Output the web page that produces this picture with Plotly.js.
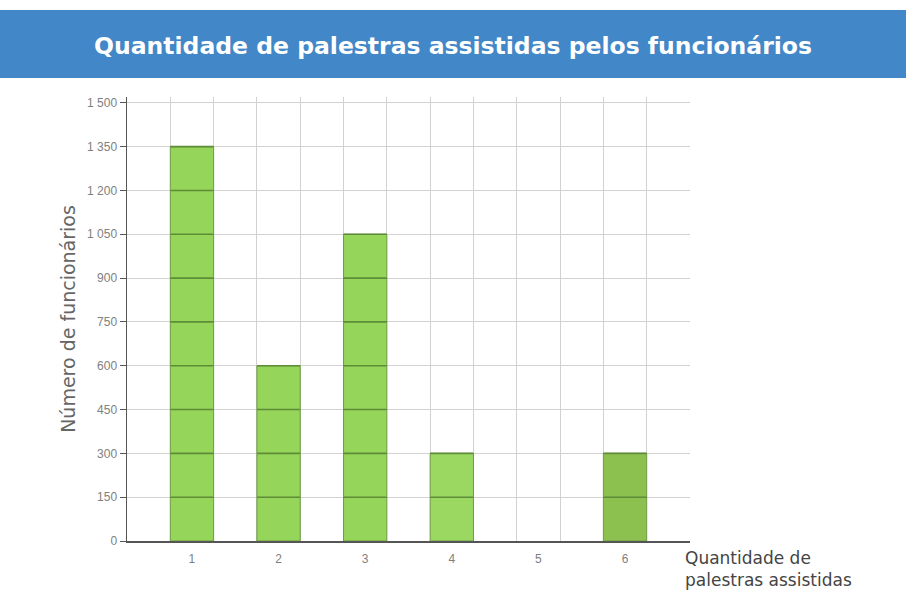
<!DOCTYPE html>
<html>
<head>
<meta charset="utf-8">
<script src="https://cdn.plot.ly/plotly-3.0.1.min.js"></script>
<style>
html,body{margin:0;padding:0;background:#fff;}
#chart{width:906px;height:595px;}
</style>
</head>
<body>
<div id="chart"></div>
<script>
// Data
const categories = [1, 2, 3, 4, 5, 6];
const employees = [1350, 600, 1050, 300, 0, 300];
const barColors = ['#95d559', '#95d559', '#95d559', '#9ad862', '#95d559', '#8cc150'];
const yTicks = [0, 150, 300, 450, 600, 750, 900, 1050, 1200, 1350, 1500];
const titleText = 'Quantidade de palestras assistidas pelos funcionários';
const yTitle = 'Número de funcionários';
const xTitle = 'Quantidade de<br>palestras assistidas';

// Dark green division lines across each bar, at each y tick below its value
const segX = [], segY = [];
categories.forEach((c, i) => {
  yTicks.forEach(t => {
    if (t > 0 && t <= employees[i]) {
      segX.push(c - 0.25, c + 0.25, null);
      segY.push(t, t, null);
    }
  });
});

const traces = [
  {
    type: 'bar',
    x: categories,
    y: employees,
    width: 0.5,
    marker: {color: barColors, line: {color: '#6e9c44', width: employees.map(v => v > 0 ? 1 : 0)}},
    hoverinfo: 'x+y'
  },
  {
    type: 'scatter',
    mode: 'lines',
    x: segX,
    y: segY,
    line: {color: '#5f8c38', width: 1.6},
    hoverinfo: 'skip'
  }
];

const tickFont = {family: '"Liberation Sans Narrow", "Liberation Sans", sans-serif', size: 12, color: '#808080'};

const layout = {
  width: 906,
  height: 595,
  margin: {l: 127, r: 216, t: 97, b: 54},
  paper_bgcolor: '#ffffff',
  plot_bgcolor: '#ffffff',
  showlegend: false,
  separators: ', ',
  title: {
    text: '<b>' + titleText + '</b>',
    font: {family: '"DejaVu Sans", sans-serif', size: 23.5, color: '#ffffff'},
    x: 0.5, xanchor: 'center',
    y: 0.923, yanchor: 'middle'
  },
  xaxis: {
    range: [0.25, 6.75],
    tickvals: categories,
    ticktext: categories.map(String),
    ticks: '',
    ticklabelstandoff: 6,
    showgrid: false,
    zeroline: false,
    showline: true,
    linecolor: '#555',
    linewidth: 1.5,
    tickfont: tickFont,
    minor: {tick0: 0.25, dtick: 0.5, showgrid: true, gridcolor: '#d2d2d2', gridwidth: 1, ticks: ''},
    fixedrange: true
  },
  yaxis: {
    range: [0, 1520],
    tickvals: yTicks,
    separatethousands: true,
    ticks: 'outside',
    ticklen: 6,
    tickcolor: '#555',
    showgrid: true,
    gridcolor: '#d2d2d2',
    gridwidth: 1,
    zeroline: false,
    showline: true,
    linecolor: '#555',
    linewidth: 1.5,
    tickfont: tickFont,
    title: {text: yTitle, font: {family: '"DejaVu Sans", sans-serif', size: 19, color: '#666'}, standoff: 6},
    fixedrange: true
  },
  shapes: [
    {
      type: 'rect', xref: 'paper', yref: 'paper',
      x0: -0.2256, x1: 1.3837, y0: 1.043, y1: 1.196,
      fillcolor: '#4287c8', line: {width: 0}, layer: 'below'
    }
  ],
  annotations: [
    {
      text: xTitle, xref: 'paper', yref: 'paper',
      x: 1.0, y: -0.012, xanchor: 'left', yanchor: 'top', xshift: -7,
      align: 'left', showarrow: false,
      font: {family: '"DejaVu Sans", sans-serif', size: 17, color: '#444'}
    }
  ]
};

Plotly.newPlot('chart', traces, layout, {displayModeBar: false, staticPlot: true});
</script>
</body>
</html>
